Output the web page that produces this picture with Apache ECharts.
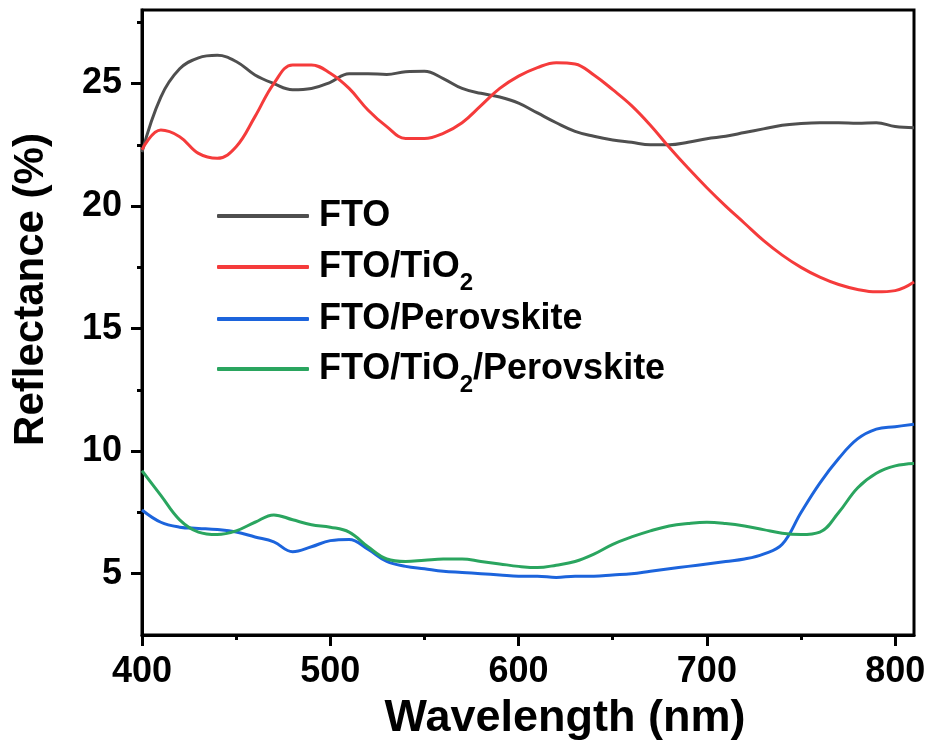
<!DOCTYPE html>
<html lang="en">
<head>
    <meta charset="utf-8">
    <title>Reflectance</title>
    <script src="https://cdn.jsdelivr.net/npm/echarts@6/dist/echarts.min.js"></script>
    <style>
        html, body { margin: 0; padding: 0; background: #fff; }
        #main { width: 931px; height: 749px; }
    </style>
</head>
<body>
<div id="main"></div>

<script type="text/javascript">
    // wavelength (nm)
    var wavelength = [400, 410, 420, 430, 440, 450, 460, 470, 480, 490,
                      500, 510, 520, 530, 540, 550, 560, 570, 580, 590,
                      600, 610, 620, 630, 640, 650, 660, 670, 680, 690,
                      700, 710, 720, 730, 740, 750, 760, 770, 780, 790,
                      800, 810];

    // reflectance (%)
    var fto = [22.2, 24.45, 25.6, 26.05, 26.15, 25.9, 25.35, 25.0, 24.75, 24.8,
               25.05, 25.4, 25.4, 25.37, 25.48, 25.5, 25.2, 24.8, 24.6, 24.45,
               24.2, 23.8, 23.4, 23.05, 22.85, 22.7, 22.6, 22.5, 22.5, 22.6,
               22.75, 22.85, 23.0, 23.15, 23.3, 23.37, 23.4, 23.4, 23.38, 23.4,
               23.25, 23.2];
    var ftoTiO2 = [22.3, 23.1, 22.83, 22.15, 21.95, 22.42, 23.65, 25.0, 25.76, 25.76,
                   25.42, 24.8, 23.92, 23.24, 22.76, 22.76, 22.97, 23.4, 24.1, 24.8,
                   25.3, 25.65, 25.85, 25.8, 25.35, 24.75, 24.1, 23.3, 22.4, 21.55,
                   20.75, 20.0, 19.3, 18.6, 18.0, 17.5, 17.1, 16.8, 16.6, 16.5,
                   16.55, 16.9];
    var ftoPero = [7.6, 7.1, 6.9, 6.85, 6.8, 6.7, 6.5, 6.3, 5.9, 6.1,
                   6.35, 6.4, 6.0, 5.5, 5.3, 5.2, 5.1, 5.05, 5.0, 4.95,
                   4.9, 4.9, 4.85, 4.9, 4.9, 4.95, 5.0, 5.1, 5.2, 5.3,
                   5.4, 5.5, 5.6, 5.8, 6.2, 7.5, 8.7, 9.7, 10.5, 10.9,
                   11.0, 11.1];
    var ftoTiO2Pero = [9.2, 8.2, 7.2, 6.7, 6.6, 6.75, 7.1, 7.4, 7.2, 7.0,
                       6.9, 6.7, 6.1, 5.6, 5.5, 5.55, 5.6, 5.6, 5.5, 5.4,
                       5.3, 5.25, 5.35, 5.5, 5.8, 6.2, 6.5, 6.75, 6.95, 7.05,
                       7.1, 7.05, 6.95, 6.8, 6.65, 6.6, 6.7, 7.5, 8.5, 9.1,
                       9.4, 9.5];

    var seriesNames = ['FTO', 'FTO/TiO2', 'FTO/Perovskite', 'FTO/TiO2/Perovskite'];
    var seriesColors = ['#4f4f4f', '#f53b3b', '#1c64dc', '#2aa55f'];

    var xMajor = [400, 500, 600, 700, 800];
    var xMinor = [450, 550, 650, 750];
    var yMajor = [5, 10, 15, 20, 25];
    var yMinor = [7.5, 12.5, 17.5, 22.5, 27.5];

    var FONT = "'Liberation Sans', Arial, sans-serif";

    function pairs(vals) {
        return wavelength.map(function (w, i) { return [w, vals[i]]; });
    }

    // one legend per row so each row sits where the original puts it
    var legendTops = [193, 234, 296, 336];
    var legends = seriesNames.map(function (n, i) {
        return {
            orient: 'vertical',
            left: 212, top: legendTops[i],
            itemWidth: 92, itemHeight: 4,
            icon: 'roundRect',
            data: [n],
            formatter: function (name) {
                return name.split('TiO2').map(function (p) {
                    return p ? '{m|' + p + '}' : '';
                }).join('{m|TiO}{s|2}');
            },
            textStyle: {
                fontFamily: FONT, fontWeight: 'bold', fontSize: 36, color: '#000',
                padding: [0, 0, 0, 5],
                rich: {
                    m: { fontFamily: FONT, fontWeight: 'bold', fontSize: 36, lineHeight: 36, color: '#000' },
                    s: { fontFamily: FONT, fontWeight: 'bold', fontSize: 24, lineHeight: 24, padding: [32, 0, 0, 0], color: '#000' }
                }
            }
        };
    });

    var myChart = echarts.init(document.getElementById('main'));

    var allVals = [fto, ftoTiO2, ftoPero, ftoTiO2Pero];

    myChart.setOption({
        animation: false,
        backgroundColor: '#fff',
        grid: {
            left: 142, top: 10, width: 772, height: 625,
            show: true, borderColor: '#000', borderWidth: 3
        },
        legend: legends,
        xAxis: [{
            type: 'value', min: 400, max: 810,
            name: 'Wavelength (nm)', nameLocation: 'middle', nameGap: 61,
            nameTextStyle: { fontFamily: FONT, fontWeight: 'bold', fontSize: 45, color: '#000', padding: [0, 0, 0, 74] },
            axisLine: { lineStyle: { color: '#000', width: 3 } },
            axisTick: { customValues: xMajor, length: 11, lineStyle: { width: 3, color: '#000' } },
            axisLabel: { customValues: xMajor, margin: 19, fontFamily: FONT, fontWeight: 'bold', fontSize: 36, color: '#000' },
            splitLine: { show: false }
        }, {
            type: 'value', min: 400, max: 810, position: 'bottom',
            axisLine: { show: false },
            axisTick: { customValues: xMinor, length: 5, lineStyle: { width: 3, color: '#000' } },
            axisLabel: { show: false },
            splitLine: { show: false }
        }],
        yAxis: [{
            type: 'value', min: 2.5, max: 28,
            name: 'Reflectance (%)', nameLocation: 'middle', nameGap: 90,
            nameTextStyle: { fontFamily: FONT, fontWeight: 'bold', fontSize: 42, color: '#000', padding: [0, 0, 0, 66] },
            axisLine: { lineStyle: { color: '#000', width: 3 } },
            axisTick: { customValues: yMajor, length: 11, lineStyle: { width: 3, color: '#000' } },
            axisLabel: { customValues: yMajor, margin: 20, fontFamily: FONT, fontWeight: 'bold', fontSize: 36, color: '#000' },
            splitLine: { show: false }
        }, {
            type: 'value', min: 2.5, max: 28, position: 'left',
            axisLine: { show: false },
            axisTick: { customValues: yMinor, length: 5, lineStyle: { width: 3, color: '#000' } },
            axisLabel: { show: false },
            splitLine: { show: false }
        }],
        series: seriesNames.map(function (n, i) {
            return {
                name: n, type: 'line', smooth: 0.4, symbol: 'none',
                xAxisIndex: 0, yAxisIndex: 0,
                lineStyle: { color: seriesColors[i], width: 3 },
                itemStyle: { color: seriesColors[i] },
                data: pairs(allVals[i])
            };
        })
    });
</script>
</body>
</html>
